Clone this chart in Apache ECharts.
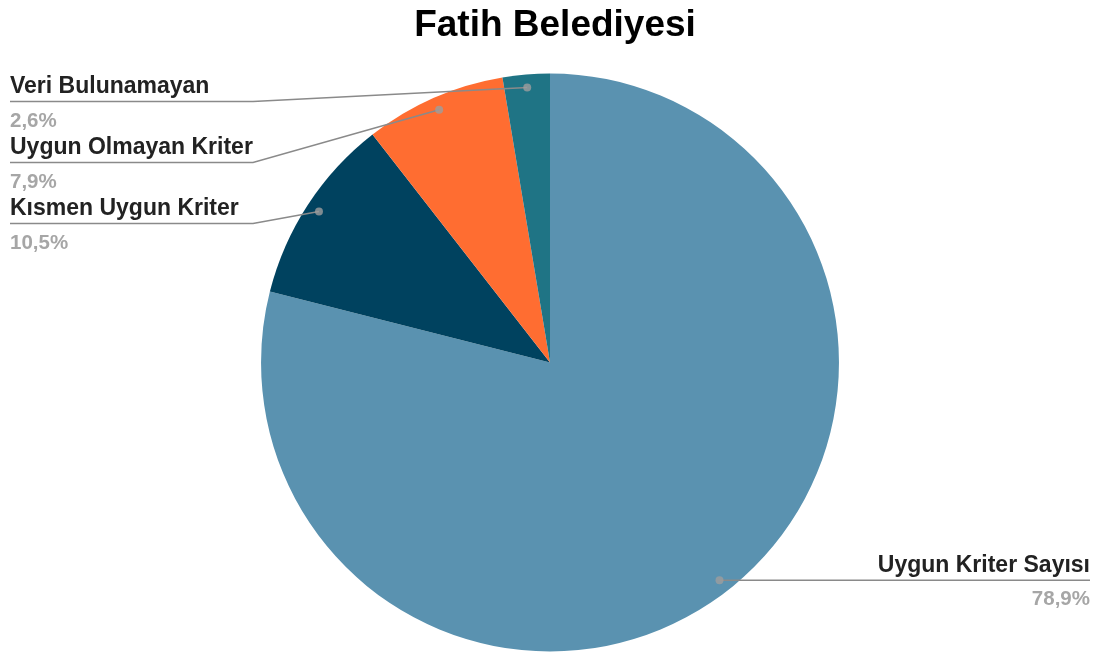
<!DOCTYPE html>
<html><head><meta charset="utf-8">
<script src="https://cdn.jsdelivr.net/npm/echarts@6/dist/echarts.min.js"></script>
<style>html,body{margin:0;padding:0;background:#fff}#c{width:1110px;height:656px}</style>
</head><body><div id="c"></div>
<script>
const titleText = 'Fatih Belediyesi';
const categories = ['Uygun Kriter Sayısı', 'Kısmen Uygun Kriter', 'Uygun Olmayan Kriter', 'Veri Bulunamayan'];
const values = [30, 4, 3, 1];
const colors = ['#5a92b0', '#00425f', '#ff6d31', '#1f7485'];

const total = values.reduce((a, b) => a + b, 0);
const mids = [];
let acc = 0;
values.forEach(v => { mids.push(acc + v / 2); acc += v; });

const CX = 0.4955, CY = 0.5526, RFRAC = 0.881, DOT = 0.955;
const chart = echarts.init(document.getElementById('c'), null, {renderer: 'canvas'});
const FONT = '"Liberation Sans", Arial, sans-serif';
const pieBase = {
  type: 'pie',
  center: [CX * 100 + '%', CY * 100 + '%'],
  radius: RFRAC * 100 + '%',
  startAngle: 90,
  clockwise: true
};

chart.setOption({
  animation: false,
  title: {text: titleText, left: 'center', top: 2,
    textStyle: {fontFamily: FONT, fontWeight: 'bold', fontSize: 37, color: '#000'}},
  polar: {center: [CX * 100 + '%', CY * 100 + '%'], radius: RFRAC * 100 + '%'},
  angleAxis: {type: 'value', min: 0, max: total, startAngle: 90, clockwise: true, show: false},
  radiusAxis: {type: 'value', min: 0, max: 1, show: false},
  series: [Object.assign({}, pieBase, {
    data: categories.map((c, i) => ({name: c, value: values[i], itemStyle: {color: colors[i]}})),
    itemStyle: {borderWidth: 0},
    label: {show: false},
    labelLine: {show: false},
    z: 2
  }), Object.assign({}, pieBase, {
    silent: true,
    data: categories.map((c, i) => ({name: c, value: values[i]})),
    itemStyle: {color: 'rgba(0,0,0,0)', borderWidth: 0},
    label: {
      show: true,
      fontFamily: FONT,
      formatter: p => '{n|' + p.name + '}\n{p|' + (p.value / total * 100).toFixed(1).replace('.', ',') + '%}',
      rich: {
        n: {fontFamily: FONT, fontWeight: 'bold', fontSize: 23, color: '#222', lineHeight: 30},
        p: {fontFamily: FONT, fontWeight: 'bold', fontSize: 20.5, color: '#a6a6a6', lineHeight: 39}
      }
    },
    labelLine: {show: true, length: 10, length2: 10, lineStyle: {color: '#8a8a8a', width: 1.5}},
    labelLayout: function (params) {
      const W = chart.getWidth(), H = chart.getHeight();
      const cx = W * CX, cy = H * CY;
      const R = RFRAC * Math.min(W, H) / 2 * DOT;
      const i = params.dataIndex;
      const a = mids[i] / total * Math.PI * 2;
      const p0 = [cx + R * Math.sin(a), cy - R * Math.cos(a)];
      if (i === 0) {
        const ly = p0[1];
        const rx = W - 20;
        return {x: rx, y: ly - 30, align: 'right', verticalAlign: 'top',
          labelLinePoints: [p0, [(p0[0] + rx) / 2, ly], [rx, ly]]};
      }
      const k = values.length - 1 - i;
      const ly = 101.5 + k * 61;
      return {x: 10, y: ly - 30, align: 'left', verticalAlign: 'top',
        labelLinePoints: [p0, [253, ly], [10, ly]]};
    },
    z: 5
  }), {
    type: 'scatter',
    coordinateSystem: 'polar',
    symbolSize: 8,
    itemStyle: {color: '#9e9e9e'},
    silent: true,
    z: 10,
    data: mids.map(m => [DOT, m])
  }]
});
</script>
</body></html>
